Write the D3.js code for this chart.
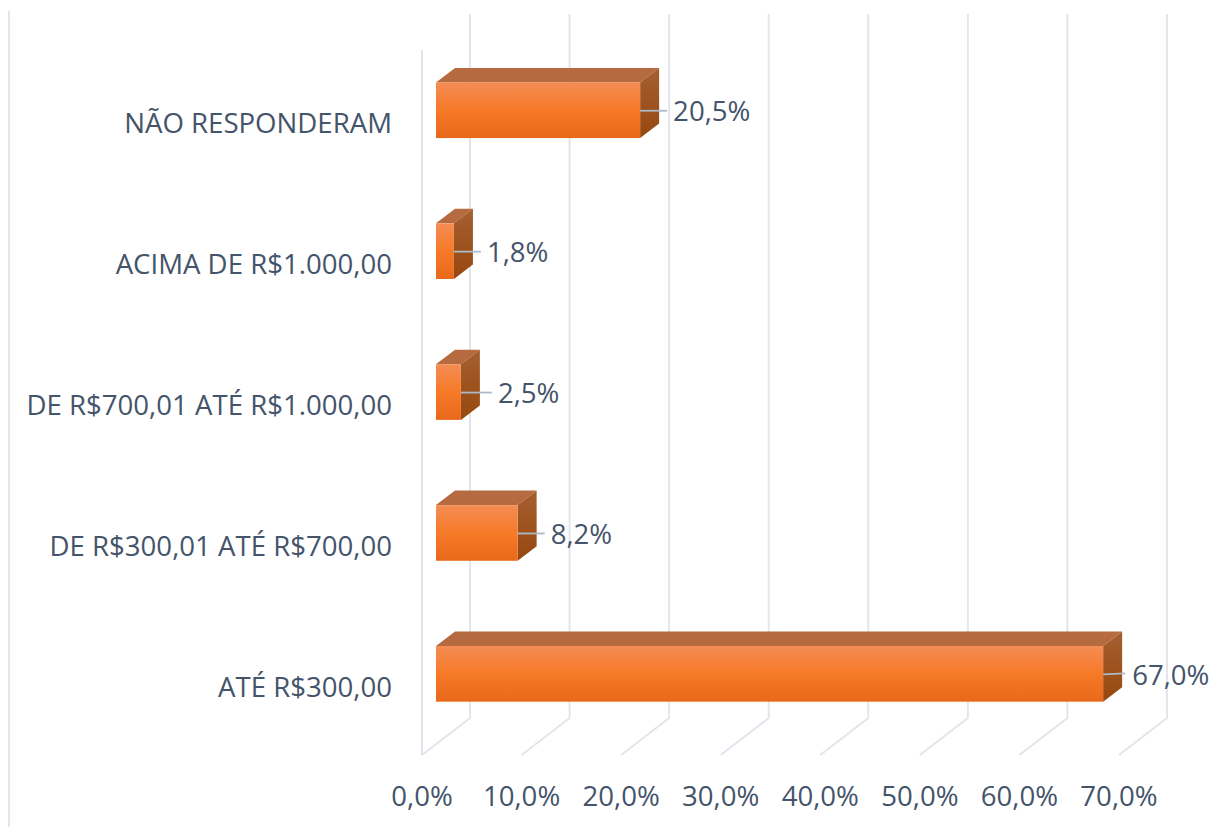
<!DOCTYPE html>
<html>
<head>
<meta charset="utf-8">
<script src="https://cdn.jsdelivr.net/npm/d3@7"></script>
<style>
  html, body { margin: 0; padding: 0; background: #fff; }
  svg { display: block; }
  text { font-family: "Open Sans", sans-serif; fill: #44546a; }
</style>
</head>
<body>
<svg id="chart" width="1230" height="827"></svg>
<script>
const categories = [
  "NÃO RESPONDERAM",
  "ACIMA DE R$1.000,00",
  "DE R$700,01 ATÉ R$1.000,00",
  "DE R$300,01 ATÉ R$700,00",
  "ATÉ R$300,00"
];
const values = [20.5, 1.8, 2.5, 8.2, 67.0];
const ticks = [0, 10, 20, 30, 40, 50, 60, 70];

const fmt = v => v.toFixed(1).replace(".", ",") + "%";

const svg = d3.select("#chart");
const defs = svg.append("defs");

function gradient(id, stops) {
  const g = defs.append("linearGradient").attr("id", id)
    .attr("x1", 0).attr("y1", 0).attr("x2", 0).attr("y2", 1);
  stops.forEach(s => g.append("stop").attr("offset", s[0]).attr("stop-color", s[1]));
}
gradient("front", [[0, "#f48c54"], [0.5, "#f67a28"], [1, "#e9681a"]]);
gradient("side", [[0, "#a55f30"], [1, "#97480f"]]);

// front plane of the bars
const x = d3.scaleLinear().domain([0, 70]).range([436, 1133]);
const y = d3.scaleBand().domain(categories).range([39.8, 744.3]).paddingInner(0.605).paddingOuter(0.3025);

// offsets of the 3d box
const barDx = 19, barDy = -14.5;
const wallDx = 34, floorDx = -14;
const wallTop = 14, wallBottom = 718, floorY = 755;
const fontSize = 27.6;

// the data labels were placed by hand in the original, so they drift a bit
const labelGap = [33, 33, 37, 33, 29];
const leaderLen = [27, 27, 31, 27, 22];

const grid = svg.append("g").attr("fill", "none").attr("stroke", "#e2e6ec").attr("stroke-width", 2);

// outer frame line on the far left
grid.append("line").attr("x1", 9).attr("x2", 9).attr("y1", 11).attr("y2", 827);

grid.selectAll("path.wall").data(ticks).join("path")
  .attr("class", "wall")
  .attr("d", d => {
    const bx = x(d) + wallDx;
    return `M${bx},${wallTop}V${wallBottom}L${x(d) + floorDx},${floorY}`;
  });
grid.append("line")
  .attr("x1", x(0) + floorDx).attr("x2", x(0) + floorDx)
  .attr("y1", 50).attr("y2", floorY);

const bars = svg.append("g").selectAll("g").data(values).join("g");

bars.append("path").attr("fill", "#b66a40")
  .attr("d", (d, i) => {
    const t = y(categories[i]);
    return `M${x(0)},${t}l${barDx},${barDy}H${x(d) + barDx}L${x(d)},${t}Z`;
  });
bars.append("path").attr("fill", "url(#side)")
  .attr("d", (d, i) => {
    const t = y(categories[i]);
    return `M${x(d)},${t}l${barDx},${barDy}v${y.bandwidth()}l${-barDx},${-barDy}Z`;
  });
bars.append("rect").attr("fill", "url(#front)")
  .attr("x", x(0)).attr("y", (d, i) => y(categories[i]))
  .attr("width", d => x(d) - x(0)).attr("height", y.bandwidth());

// leader lines
bars.append("line").attr("stroke", "#adbac7").attr("stroke-width", 1.8)
  .attr("x1", d => x(d))
  .attr("x2", (d, i) => x(d) + leaderLen[i])
  .attr("y1", (d, i) => y(categories[i]) + y.bandwidth() / 2 + 0.5)
  .attr("y2", (d, i) => y(categories[i]) + y.bandwidth() / 2 + (i === 4 ? -0.5 : 0.5));

bars.append("text").attr("font-size", fontSize)
  .attr("x", (d, i) => x(d) + labelGap[i])
  .attr("y", (d, i) => y(categories[i]) + y.bandwidth() / 2 + 11)
  .text(d => fmt(d));

svg.append("g").selectAll("text").data(categories).join("text")
  .attr("font-size", fontSize).attr("text-anchor", "end")
  .attr("x", 392)
  .attr("y", d => y(d) + y.bandwidth() / 2 + 23)
  .text(d => d);

svg.append("g").selectAll("text").data(ticks).join("text")
  .attr("font-size", fontSize).attr("text-anchor", "middle")
  .attr("x", d => x(d) - 14)
  .attr("y", 806)
  .text(d => fmt(d));
</script>
</body>
</html>
